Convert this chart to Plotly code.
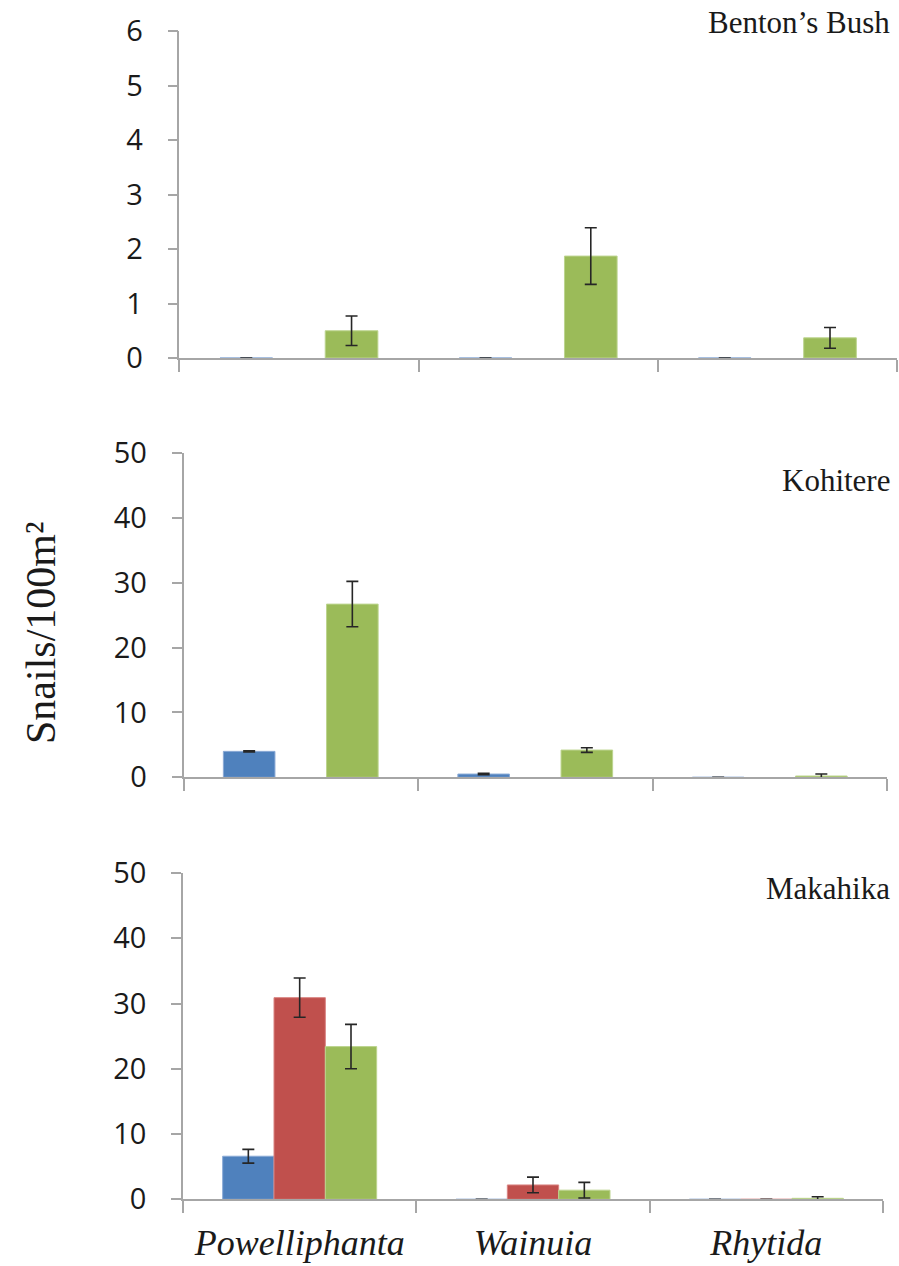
import plotly.graph_objects as go

W, H = 899, 1266

genera = ["Powelliphanta", "Wainuia", "Rhytida"]
sites = ["Benton’s Bush", "Kohitere", "Makahika"]

# values per site: [blue, red, green] series, each per genus
benton_blue = [0, 0, 0]
benton_red = [None, None, None]
benton_green = [0.5, 1.87, 0.37]
benton_blue_err = [0, 0, 0]
benton_red_err = [0, 0, 0]
benton_green_err = [0.27, 0.52, 0.19]

kohitere_blue = [4.0, 0.5, 0]
kohitere_red = [None, None, None]
kohitere_green = [26.7, 4.2, 0.2]
kohitere_blue_err = [0.1, 0.1, 0]
kohitere_red_err = [0, 0, 0]
kohitere_green_err = [3.5, 0.35, 0.3]

makahika_blue = [6.6, 0, 0]
makahika_red = [30.9, 2.2, 0]
makahika_green = [23.4, 1.4, 0.15]
makahika_blue_err = [1.05, 0, 0]
makahika_red_err = [3.0, 1.2, 0]
makahika_green_err = [3.4, 1.2, 0.25]

y_ranges = [[0, 6], [0, 50], [0, 50]]
y_dticks = [1, 10, 10]

colors = ["#4F81BD", "#C0504D", "#9BBB59"]
edge_colors = ["#8AAAD6", "#D98482", "#BCD48E"]

site_data = [
    ([benton_blue, benton_red, benton_green], [benton_blue_err, benton_red_err, benton_green_err]),
    ([kohitere_blue, kohitere_red, kohitere_green], [kohitere_blue_err, kohitere_red_err, kohitere_green_err]),
    ([makahika_blue, makahika_red, makahika_green], [makahika_blue_err, makahika_red_err, makahika_green_err]),
]

# layout geometry (pixels)
x_px = [(179.3, 897), (183.5, 887), (183, 883)]
y_px = [(31, 358), (453, 777.3), (873, 1199.3)]
title_y = [22, 481, 888]

fig = go.Figure()
for i, (vals, errs) in enumerate(site_data):
    xa = "x" if i == 0 else f"x{i+1}"
    ya = "y" if i == 0 else f"y{i+1}"
    for s in range(3):
        fig.add_trace(go.Bar(
            x=genera, y=vals[s], xaxis=xa, yaxis=ya,
            marker=dict(color=colors[s], line=dict(color=edge_colors[s], width=1)),
            error_y=dict(type="data", array=errs[s], visible=True,
                         color="#262626", thickness=1.6, width=6),
            showlegend=False,
        ))

layout = dict(
    width=W, height=H,
    margin=dict(l=0, r=0, t=0, b=0, autoexpand=False),
    paper_bgcolor="white", plot_bgcolor="white",
    barmode="group", bargap=0.34, bargroupgap=0,
    font=dict(family="Open Sans", color="#1a1a1a"),
    annotations=[],
)

for i in range(3):
    xk = "xaxis" if i == 0 else f"xaxis{i+1}"
    yk = "yaxis" if i == 0 else f"yaxis{i+1}"
    xa = "x" if i == 0 else f"x{i+1}"
    ya = "y" if i == 0 else f"y{i+1}"
    x0, x1 = x_px[i]
    y0, y1 = y_px[i]
    layout[xk] = dict(
        domain=[x0 / W, x1 / W], anchor=ya, automargin=False,
        type="category", categoryorder="array", categoryarray=genera,
        showline=True, linecolor="#A6A6A6", linewidth=1.5,
        ticks="outside", tickson="boundaries", ticklen=12, tickcolor="#A6A6A6", tickwidth=1.5,
        showgrid=False, zeroline=False,
        showticklabels=(i == 2),
        tickfont=dict(family="Liberation Serif", size=36, style="italic", color="#1a1a1a"),
        ticklabelstandoff=11,
        fixedrange=True,
    )
    layout[yk] = dict(
        domain=[1 - y1 / H, 1 - y0 / H], anchor=xa, automargin=False,
        range=y_ranges[i], dtick=y_dticks[i], tick0=0,
        showline=True, linecolor="#A6A6A6", linewidth=1.5,
        ticks="outside", ticklen=10, tickcolor="#A6A6A6", tickwidth=1.5,
        showgrid=False, zeroline=False,
        tickfont=dict(family="Open Sans", size=29, color="#1a1a1a"),
        ticklabelstandoff=19,
        fixedrange=True,
    )
    layout["annotations"].append(dict(
        text=sites[i], xref="paper", yref="paper",
        x=892 / W, y=1 - title_y[i] / H, xanchor="right", yanchor="middle",
        showarrow=False, font=dict(family="Liberation Serif", size=31, color="#1a1a1a"),
    ))

layout["annotations"].append(dict(
    text="Snails/100m²", xref="paper", yref="paper",
    x=41 / W, y=1 - 633 / H, xanchor="center", yanchor="middle", textangle=-90,
    showarrow=False, font=dict(family="Liberation Serif", size=42, color="#1a1a1a"),
))

fig.update_layout(**layout)
fig.write_html("out.html")
